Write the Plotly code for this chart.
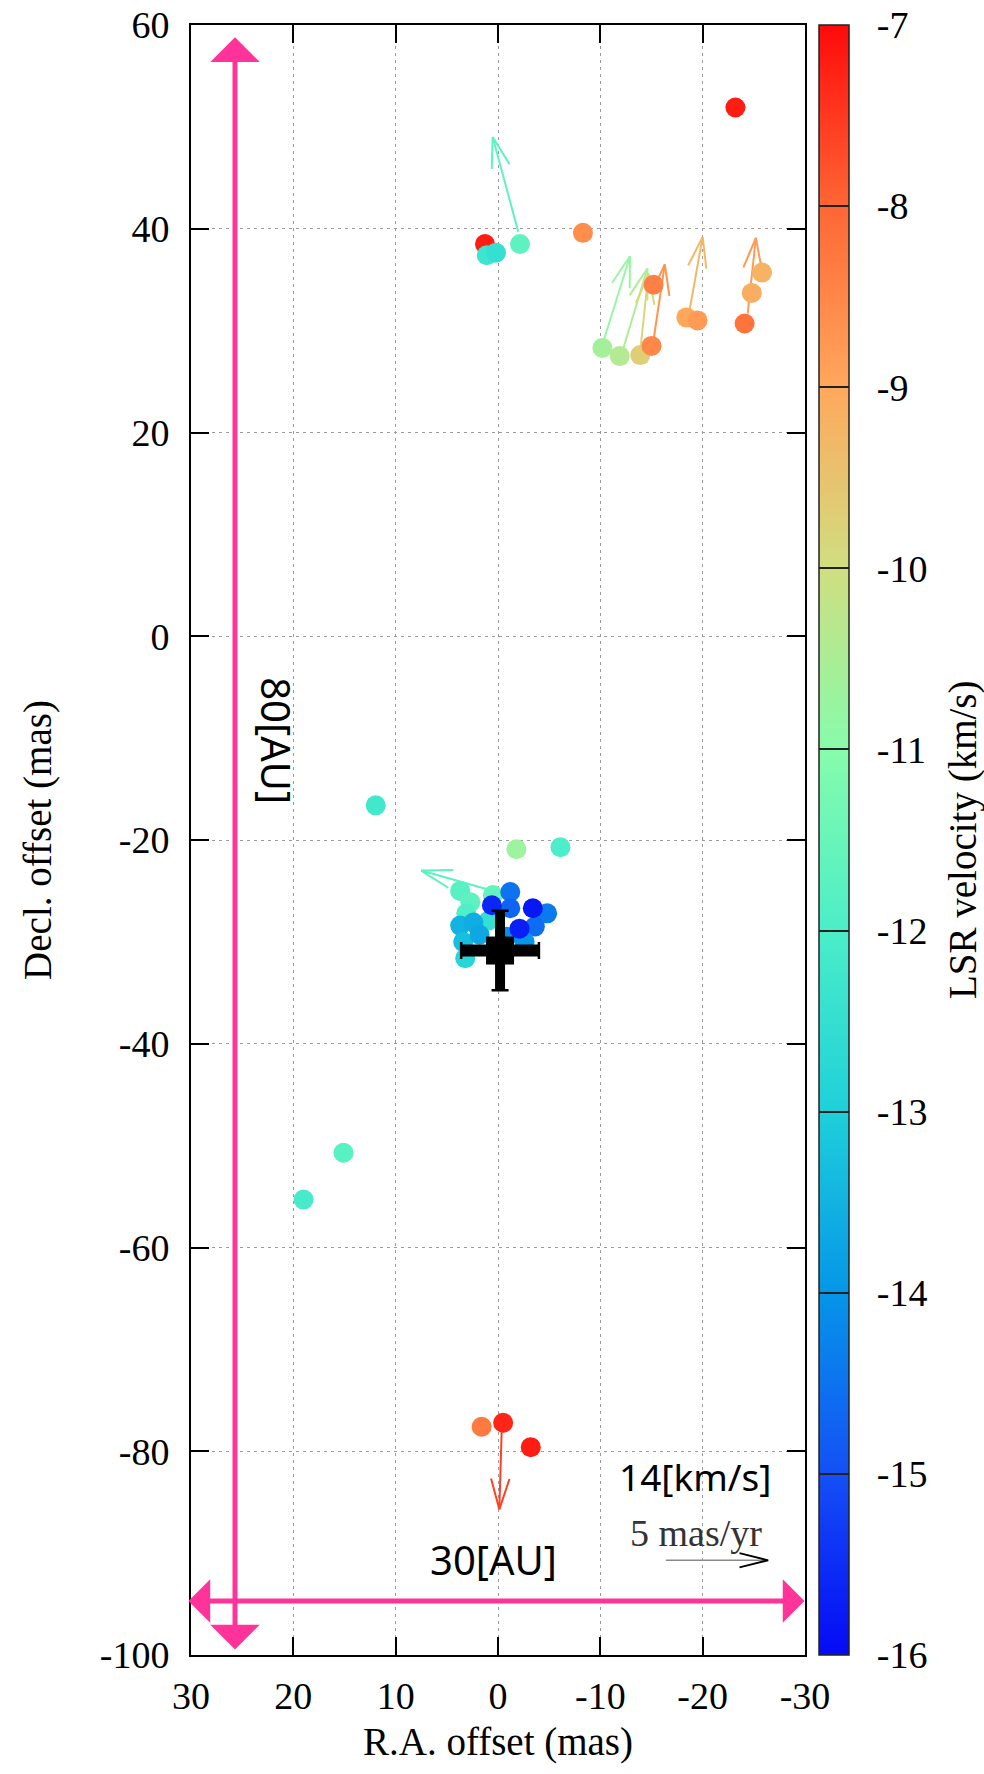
import plotly.graph_objects as go

# ---------------- data ----------------
# maser spots: R.A. offset (mas), Decl. offset (mas), LSR velocity (km/s)
spot_ra = [-23.2, -2.15, 1.27, 1.1, 0.2, -8.3, -10.2, -11.9, -13.9, -15.0, -15.2,
           -18.4, -19.5, -24.1, -24.8, -25.8,
           11.95, -1.8, -6.1,
           3.7, 2.7, 3.1, 0.5, 0.9, 3.7, 2.4, 3.4, 3.2, 1.8,
           -1.2, -1.2, -4.8, -3.6, -2.6, -0.85, 0.6, -3.4, -2.1,
           15.1, 19.0, 1.6, -0.5, -3.2]
spot_dec = [51.9, 38.5, 38.5, 37.4, 37.65, 39.6, 28.3, 27.5, 27.6, 28.5, 34.5,
            31.3, 31.0, 30.7, 33.7, 35.7,
            -16.6, -20.9, -20.7,
            -25.0, -26.1, -27.2, -25.4, -27.9, -28.4, -28.1, -30.0, -31.6, -29.3,
            -25.1, -26.7, -27.2, -28.5, -30.0, -29.5, -26.4, -26.7, -28.7,
            -50.7, -55.3, -77.6, -77.2, -79.6]
spot_vlsr = [-7.2, -11.7, -7.2, -12.3, -12.5, -8.6, -10.6, -10.4, -9.7, -8.5, -8.4,
             -9.0, -8.8, -8.2, -9.1, -9.2,
             -12.2, -10.7, -12.0,
             -11.8, -11.7, -11.9, -11.6, -12.5, -13.5, -13.6, -13.3, -12.8, -13.7,
             -14.5, -14.7, -14.4, -14.6, -14.0, -14.1, -15.6, -15.8, -15.7,
             -11.8, -12.1, -8.3, -7.3, -7.2]

# proper-motion vectors: start and end points in plot offsets (mas), colour velocity
pm_ra0 = [-1.98, -10.1, -12.2, -13.9, -15.2, -18.7, -24.4, 0.1, -0.36]
pm_dec0 = [39.7, 28.3, 28.1, 28.0, 29.1, 31.9, 31.7, -25.1, -78.0]
pm_ra1 = [0.52, -12.9, -14.6, -14.7, -16.3, -20.0, -25.2, 7.5, -0.13]
pm_dec1 = [49.0, 37.3, 36.1, 35.6, 36.5, 39.2, 39.1, -23.0, -85.7]
pm_vlsr = [-11.7, -10.8, -10.5, -9.9, -8.7, -9.3, -8.8, -11.7, -7.6]

# reference position (black cross) with uncertainties
src_ra = [-0.2]
src_dec = [-30.85]
src_err_ra = [3.8]
src_err_dec = [3.9]

# scale vector: 5 mas/yr
scale_ra = [-16.4, -26.4]
scale_dec = [-90.7, -90.7]

# pink size bars (AU scale)
au_v_ra = [25.7, 25.7]
au_v_dec = [58.8, -99.6]
au_h_ra = [30.4, -29.95]
au_h_dec = [-94.7, -94.7]

x_ticks = [30, 20, 10, 0, -10, -20, -30]
y_ticks = [60, 40, 20, 0, -20, -40, -60, -80, -100]
vel_ticks = [-7, -8, -9, -10, -11, -12, -13, -14, -15, -16]

cs_vals = [-16, -15, -14, -13, -12, -11, -10, -9, -8, -7]
cs_rgb = [(5, 10, 245), (20, 80, 245), (5, 150, 232), (30, 208, 218), (75, 238, 200),
          (135, 252, 172), (208, 222, 128), (255, 168, 92), (255, 102, 52), (255, 10, 10)]

VMIN, VMAX = -16, -7
colorscale = [[(v - VMIN) / (VMAX - VMIN), 'rgb(%d,%d,%d)' % c] for v, c in zip(cs_vals, cs_rgb)]


def vcolor(v):
    v = max(VMIN, min(VMAX, v))
    for i in range(len(cs_vals) - 1):
        a, b = cs_vals[i], cs_vals[i + 1]
        if a <= v <= b:
            t = (v - a) / (b - a)
            c = [round(cs_rgb[i][k] + t * (cs_rgb[i + 1][k] - cs_rgb[i][k])) for k in range(3)]
            return 'rgb(%d,%d,%d)' % tuple(c)
    return 'rgb(%d,%d,%d)' % cs_rgb[-1]


def arrow_xy(x0, y0, x1, y1, hl, hw):
    dx, dy = x1 - x0, y1 - y0
    L = (dx * dx + dy * dy) ** 0.5
    ux, uy = dx / L, dy / L
    nx, ny = -uy, ux
    bx, by = x1 - hl * ux, y1 - hl * uy
    xs = [x0, x1, None, bx + hw * nx, x1, bx - hw * nx]
    ys = [y0, y1, None, by + hw * ny, y1, by - hw * ny]
    return xs, ys


SERIF = 'Liberation Serif'
SANS = 'Noto Sans'
PINK = '#ff3399'

fig = go.Figure()

# proper-motion arrows (under the spots)
for x0, y0, x1, y1, v in zip(pm_ra0, pm_dec0, pm_ra1, pm_dec1, pm_vlsr):
    xs, ys = arrow_xy(x0, y0, x1, y1, 3.0, 0.9)
    fig.add_trace(go.Scatter(x=xs, y=ys, mode='lines', line=dict(color=vcolor(v), width=2),
                             hoverinfo='skip', showlegend=False))

# maser spots
fig.add_trace(go.Scatter(
    x=spot_ra, y=spot_dec, mode='markers', showlegend=False,
    marker=dict(size=20, color=spot_vlsr, colorscale=colorscale, cmin=VMIN, cmax=VMAX,
                line=dict(width=0),
                colorbar=dict(
                    x=(819 - 191) / 614, xanchor='left', xpad=0,
                    y=0.5, yanchor='middle', len=1, lenmode='fraction', ypad=0,
                    thickness=30, thicknessmode='pixels',
                    outlinewidth=1.5, outlinecolor='#222',
                    tickmode='array', tickvals=vel_ticks,
                    ticktext=['\u00a0\u00a0' + str(t) for t in vel_ticks],
                    ticks='inside', ticklen=30, tickwidth=1.5, tickcolor='#222',
                    tickfont=dict(family=SERIF, size=38, color='black'),
                ))))

# scale arrow: gray shaft, black head
fig.add_trace(go.Scatter(x=scale_ra, y=scale_dec, mode='lines',
                         line=dict(color='#8a8a8a', width=1.5), hoverinfo='skip', showlegend=False))
sx, sy = arrow_xy(scale_ra[0], scale_dec[0], scale_ra[1], scale_dec[1], 2.8, 0.7)
fig.add_trace(go.Scatter(x=sx[3:], y=sy[3:], mode='lines', line=dict(color='black', width=1.8),
                         hoverinfo='skip', showlegend=False))

# reference position: thick cross
fig.add_trace(go.Scatter(
    x=src_ra, y=src_dec, mode='markers', showlegend=False,
    marker=dict(symbol='square', size=28, color='black'),
    error_x=dict(type='data', array=src_err_ra, thickness=12, width=0, color='black'),
    error_y=dict(type='data', array=src_err_dec, thickness=10, width=0, color='black')))
fig.add_trace(go.Scatter(
    x=src_ra, y=src_dec, mode='markers', showlegend=False,
    marker=dict(size=1, color='black'),
    error_x=dict(type='data', array=src_err_ra, thickness=2.5, width=8.5, color='black'),
    error_y=dict(type='data', array=src_err_dec, thickness=2.5, width=8.5, color='black')))

# pink AU bars
fig.add_annotation(x=au_v_ra[0], y=au_v_dec[0], ax=au_v_ra[1], ay=au_v_dec[1],
                   xref='x', yref='y', axref='x', ayref='y', text='', showarrow=True,
                   arrowside='end+start', arrowhead=1, startarrowhead=1,
                   arrowsize=1.65, startarrowsize=1.65, arrowwidth=5, arrowcolor=PINK)
fig.add_annotation(x=au_h_ra[1], y=au_h_dec[1], ax=au_h_ra[0], ay=au_h_dec[0],
                   xref='x', yref='y', axref='x', ayref='y', text='', showarrow=True,
                   arrowside='end+start', arrowhead=1, startarrowhead=1,
                   arrowsize=1.45, startarrowsize=1.45, arrowwidth=5, arrowcolor=PINK)

fig.add_annotation(x=21.6, y=-10.3, xref='x', yref='y', text='80[AU]', showarrow=False,
                   textangle=90, font=dict(family=SANS, size=40, color='black'))
fig.add_annotation(x=0.4, y=-90.6, xref='x', yref='y', text='30[AU]', showarrow=False,
                   font=dict(family=SANS, size=40, color='black'))
fig.add_annotation(x=-19.3, y=-82.5, xref='x', yref='y', text='14[km/s]', showarrow=False,
                   font=dict(family=SANS, size=37, color='black'))
fig.add_annotation(x=-19.3, y=-88.0, xref='x', yref='y', text='5 mas/yr', showarrow=False,
                   font=dict(family=SERIF, size=38, color='#333'))

# colour-bar title
fig.add_annotation(x=(963 - 191) / 614, y=0.5, xref='paper', yref='paper',
                   text='LSR velocity (km/s)', showarrow=False, textangle=-90,
                   xanchor='center', yanchor='middle',
                   font=dict(family=SERIF, size=39, color='black'))

axis_common = dict(showline=True, linecolor='black', linewidth=2, mirror='ticks',
                   ticks='inside', ticklen=18, tickwidth=1.5, tickcolor='black',
                   showgrid=True, gridcolor='#9a9a9a', gridwidth=1.2, griddash='3px,4px',
                   zeroline=False, automargin=False,
                   tickfont=dict(family=SERIF, size=38, color='black'))

fig.update_xaxes(range=[30, -30], tickmode='array', tickvals=x_ticks,
                 ticktext=[str(t) for t in x_ticks],
                 ticklabelstandoff=6,
                 title=dict(text='R.A. offset (mas)', font=dict(family=SERIF, size=39, color='black'),
                            standoff=12),
                 **axis_common)
fig.update_yaxes(range=[-100, 60], tickmode='array', tickvals=y_ticks,
                 ticktext=[str(t) for t in y_ticks],
                 ticklabelstandoff=12,
                 title=dict(text='Decl. offset (mas)', font=dict(family=SERIF, size=39, color='black'),
                            standoff=36),
                 **axis_common)

fig.update_layout(width=984, height=1774, margin=dict(l=191, r=179, t=25, b=119, autoexpand=False),
                  plot_bgcolor='white', paper_bgcolor='white', showlegend=False)

fig.write_html('out.html')
